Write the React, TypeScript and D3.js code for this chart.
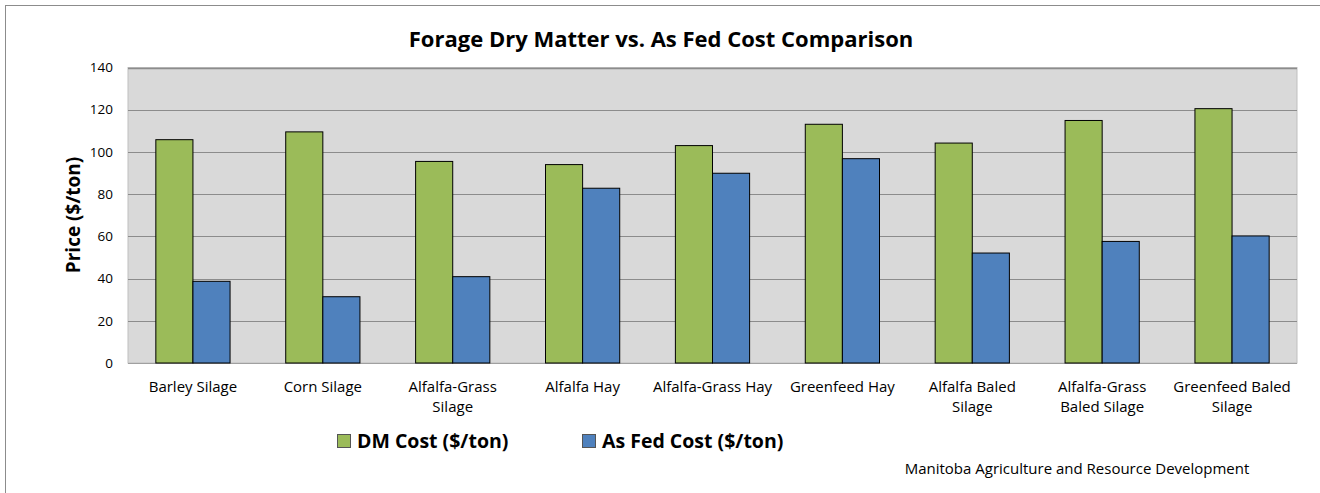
import React, { useEffect } from 'react';
import * as d3 from 'd3';

const categories = [
  ['Barley Silage'],
  ['Corn Silage'],
  ['Alfalfa-Grass', 'Silage'],
  ['Alfalfa Hay'],
  ['Alfalfa-Grass Hay'],
  ['Greenfeed Hay'],
  ['Alfalfa Baled', 'Silage'],
  ['Alfalfa-Grass', 'Baled Silage'],
  ['Greenfeed Baled', 'Silage'],
];
const dmCost = [105.8, 109.5, 95.5, 94.0, 103.0, 113.1, 104.2, 114.9, 120.5];
const asFedCost = [38.7, 31.4, 40.9, 82.8, 89.9, 96.8, 52.1, 57.6, 60.2];
const yTicks = [0, 20, 40, 60, 80, 100, 120, 140];

const series = [
  { key: 'dm', label: 'DM Cost ($/ton)', color: '#9BBB59', values: dmCost },
  { key: 'fed', label: 'As Fed Cost ($/ton)', color: '#4F81BD', values: asFedCost },
];

const W = 1320;
const H = 493;
const plot = { left: 128, right: 1297, top: 67.5, bottom: 363 };
const FONT = '"Open Sans", "Noto Sans", sans-serif';

export default function App() {
  useEffect(() => {
    document.body.style.margin = '0';
  }, []);

  const names = categories.map(c => c.join(' '));
  const x0 = d3.scaleBand<string>().domain(names).range([plot.left, plot.right]);
  const step = x0.step();
  const barW = step / 3.5;
  const x1 = d3
    .scaleBand<string>()
    .domain(series.map(s => s.key))
    .range([(step - 2 * barW) / 2, (step + 2 * barW) / 2]);
  const y = d3.scaleLinear().domain([0, 140]).range([plot.bottom, plot.top]);

  return (
    <svg width={W} height={H} style={{ position: 'absolute', left: 0, top: 0, background: '#fff' }} fontFamily={FONT}>
      {/* outer chart border */}
      <rect x={5.5} y={5.5} width={W} height={H} fill="#fff" stroke="#8c8c8c" strokeWidth={1} />

      <text x={661} y={47} textAnchor="middle" fontSize={22} fontWeight={700} fill="#000">
        Forage Dry Matter vs. As Fed Cost Comparison
      </text>

      {/* plot area */}
      <rect
        x={plot.left}
        y={plot.top}
        width={plot.right - plot.left}
        height={plot.bottom - plot.top}
        fill="#D9D9D9"
        stroke="#BFBFBF"
      />

      {yTicks.map(t => (
        <g key={t}>
          <line
            x1={plot.left}
            x2={plot.right}
            y1={Math.round(y(t)) + 0.5}
            y2={Math.round(y(t)) + 0.5}
            stroke={t === 0 ? '#A0A0A0' : '#8C8C8C'}
            strokeWidth={t === 140 ? 1.5 : 1}
          />
          <text x={113} y={y(t)} dy="0.35em" textAnchor="end" fontSize={13.5} fill="#000">
            {t}
          </text>
        </g>
      ))}

      {series.map(s => (
        <g key={s.key}>
          {names.map((n, i) => (
            <rect
              key={n}
              x={(x0(n) ?? 0) + (x1(s.key) ?? 0)}
              y={y(s.values[i])}
              width={x1.bandwidth()}
              height={y(0) - y(s.values[i])}
              fill={s.color}
              stroke="#000"
              strokeWidth={1}
            />
          ))}
        </g>
      ))}

      {categories.map((lines, i) => (
        <text key={i} textAnchor="middle" fontSize={15} fill="#000">
          {lines.map((l, j) => (
            <tspan key={j} x={(x0(names[i]) ?? 0) + step / 2} y={392 + j * 20}>
              {l}
            </tspan>
          ))}
        </text>
      ))}

      <text
        transform={`translate(80, 215) rotate(-90)`}
        textAnchor="middle"
        fontSize={19}
        fontWeight={700}
        fill="#000"
      >
        Price ($/ton)
      </text>

      {/* legend */}
      {series.map((s, i) => {
        const lx = i === 0 ? 337 : 582;
        return (
          <g key={s.key} transform={`translate(${lx}, 434)`}>
            <rect x={0.5} y={0.5} width={13} height={13} fill={s.color} stroke="#555" strokeWidth={1} />
            <text x={20} y={7} dy="0.35em" fontSize={19.5} fontWeight={700} fill="#000">
              {s.label}
            </text>
          </g>
        );
      })}

      <text x={1077} y={469} dy="0.35em" textAnchor="middle" fontSize={15} fill="#000">
        Manitoba Agriculture and Resource Development
      </text>
    </svg>
  );
}
